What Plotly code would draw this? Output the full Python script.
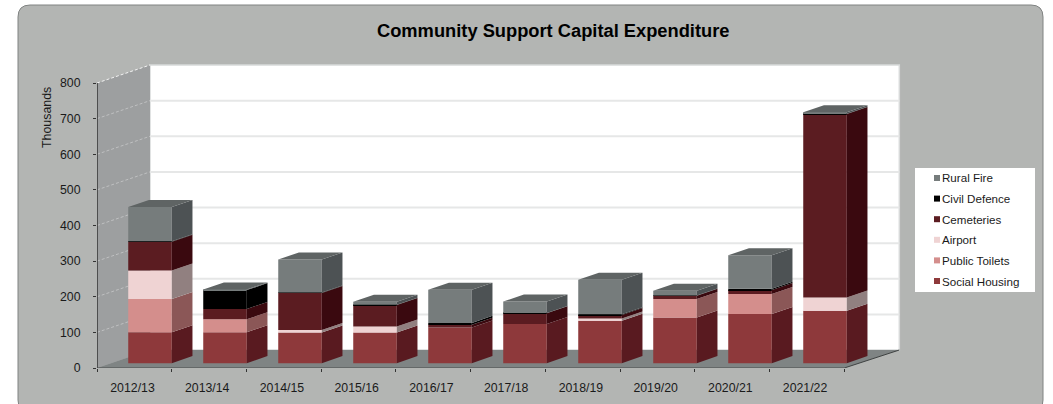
import plotly.graph_objects as go

WIDTH, HEIGHT = 1053, 404

categories = ["2012/13", "2013/14", "2014/15", "2015/16", "2016/17",
              "2017/18", "2018/19", "2019/20", "2020/21", "2021/22"]
social_housing = [87, 87, 86, 86, 100, 110, 119, 128, 138, 147]
public_toilets = [93, 36, 0, 0, 0, 0, 0, 52, 56, 0]
airport = [80, 0, 7, 17, 0, 0, 6, 0, 0, 37]
cemeteries = [81, 29, 104, 60, 8, 30, 10, 9, 11, 515]
civil_defence = [1, 53, 1, 1, 5, 1, 2, 1, 4, 1]
rural_fire = [96, 2, 93, 8, 93, 32, 97, 13, 94, 4]
y_ticks = [0, 100, 200, 300, 400, 500, 600, 700, 800]

# name, front colour, side colour (stacking order, bottom to top)
series = [
    ("Social Housing", social_housing, "#8E393B", "#591A20"),
    ("Public Toilets", public_toilets, "#D48E8C", "#8B5757"),
    ("Airport", airport, "#EFD3D3", "#918080"),
    ("Cemeteries", cemeteries, "#5B1C21", "#3A090F"),
    ("Civil Defence", civil_defence, "#000000", "#000000"),
    ("Rural Fire", rural_fire, "#767C7C", "#4D5254"),
]

# Pixel frame of the front plane of the 3D box
AXIS_LEFT, AXIS_BOTTOM = 97, 368
PX_PER_CAT = 74.73
PX_PER_UNIT = 0.35625
RIGHT_PX, TOP_PX = 905, 60

# Oblique projection: full depth moves a point right and up, in axis units
DEPTH_X = 53 / PX_PER_CAT
DEPTH_Y = 18 / PX_PER_UNIT
BAR_Z0, BAR_Z1 = 0.27, 0.66
BAR_CENTRE, BAR_WIDTH = 0.518, 0.583
BAR_PITCH = 75 / PX_PER_CAT


def project(x, y, z):
    return x + z * DEPTH_X, y + z * DEPTH_Y


def quad_path(corners):
    pts = [project(*c) for c in corners]
    return "M" + " L".join(f"{a:.4f},{b:.4f}" for a, b in pts) + " Z"


def px(x):
    return x / WIDTH


def py(y):
    return 1 - y / HEIGHT


fig = go.Figure()
shapes = []

# Rounded grey chart panel, running off the bottom of the page
L, T, R, B, C = 18, 5, 1043, 412, 12
panel = (f"M{px(L + C)},{py(T)} L{px(R - C)},{py(T)} "
         f"Q{px(R)},{py(T)} {px(R)},{py(T + C)} L{px(R)},{py(B - C)} "
         f"Q{px(R)},{py(B)} {px(R - C)},{py(B)} L{px(L + C)},{py(B)} "
         f"Q{px(L)},{py(B)} {px(L)},{py(B - C)} L{px(L)},{py(T + C)} "
         f"Q{px(L)},{py(T)} {px(L + C)},{py(T)} Z")
shapes.append(dict(type="path", xref="paper", yref="paper", path=panel, layer="below",
                   fillcolor="#B3B5B3", line=dict(color="#808382", width=1)))

N = len(categories)
N_BACK = N + 0.027
TOP = y_ticks[-1]


def box_shape(corners, fill, line=None):
    return dict(type="path", xref="x", yref="y", layer="below", path=quad_path(corners),
                fillcolor=fill, line=line or dict(width=0))


# Back wall, left wall and floor of the box
shapes.append(box_shape([(0, 0, 1), (N_BACK, 0, 1), (N_BACK, TOP, 1), (0, TOP, 1)], "#FFFFFF",
                        dict(color="#D8DADA", width=1.5)))
shapes.append(box_shape([(0, 0, 0), (0, TOP, 0), (0, TOP, 1), (0, 0, 1)], "#9D9FA0"))
shapes.append(box_shape([(0, 0, 0), (N, 0, 0), (N_BACK, 0, 1), (0, 0, 1)], "#7F8484"))


def segment(a, b, color, width, dash="solid"):
    (x0, y0), (x1, y1) = project(*a), project(*b)
    return dict(type="line", xref="x", yref="y", layer="below", x0=x0, y0=y0, x1=x1, y1=y1,
                line=dict(color=color, width=width, dash=dash))


# Gridlines across the back wall and dashed along the side wall
for v in y_ticks[1:]:
    if v < TOP:
        shapes.append(segment((0, v, 1), (N_BACK, v, 1), "#E6E7E7", 2))
    shapes.append(segment((0, v, 0), (0, v, 1), "#F2F2F2" if v == TOP else "#BFC0C1", 1,
                          "3px,2px"))

# Axis lines of the front plane and the floor's right edge
shapes.append(segment((0, 0, 0), (0, TOP, 0), "#333333", 1.5))
shapes.append(segment((0, 0, 0), (N, 0, 0), "#4A4C4C", 1.2))
shapes.append(segment((N, 0, 0), (N_BACK, 0, 1), "#3F4242", 1))

# Front faces come from stacked bars placed on the projected depth
base = [0] * N
x_front = [i * BAR_PITCH + BAR_CENTRE + BAR_Z0 * DEPTH_X for i in range(N)]
offset = BAR_Z0 * DEPTH_Y
for name, values, front, side in series:
    fig.add_trace(go.Bar(x=x_front, y=values, base=[b + offset for b in base], width=BAR_WIDTH,
                         name=name, marker=dict(color=front, line=dict(width=0)),
                         showlegend=False, hovertemplate=name + ": %{y}<extra></extra>"))
    # Right-hand side face of every segment in this series
    xs, ys = [], []
    for i, v in enumerate(values):
        if v <= 0:
            continue
        edge = i * BAR_PITCH + BAR_CENTRE + BAR_WIDTH / 2
        for c in [(edge, base[i], BAR_Z0), (edge, base[i] + v, BAR_Z0),
                  (edge, base[i] + v, BAR_Z1), (edge, base[i], BAR_Z1), (edge, base[i], BAR_Z0)]:
            a, b = project(*c)
            xs.append(a)
            ys.append(b)
        xs.append(None)
        ys.append(None)
    fig.add_trace(go.Scatter(x=xs, y=ys, mode="lines", fill="toself", fillcolor=side,
                             line=dict(width=0), hoverinfo="skip", showlegend=False))
    base = [b + v for b, v in zip(base, values)]

# Top face of each stack
xs, ys = [], []
for i, total in enumerate(base):
    left = i * BAR_PITCH + BAR_CENTRE - BAR_WIDTH / 2
    right = left + BAR_WIDTH
    for c in [(left, total, BAR_Z0), (right, total, BAR_Z0), (right, total, BAR_Z1),
              (left, total, BAR_Z1), (left, total, BAR_Z0)]:
        a, b = project(*c)
        xs.append(a)
        ys.append(b)
    xs.append(None)
    ys.append(None)
fig.add_trace(go.Scatter(x=xs, y=ys, mode="lines", fill="toself", fillcolor="#5F6464",
                         line=dict(width=0), hoverinfo="skip", showlegend=False))

annotations = [
    dict(text="<b>Community Support Capital Expenditure</b>", xref="paper", yref="paper",
         x=px(553), y=py(31), showarrow=False, xanchor="center", yanchor="middle",
         font=dict(size=18.3, color="#000000")),
    dict(text="Thousands", xref="paper", yref="paper", x=px(47), y=py(118), textangle=-90,
         showarrow=False, xanchor="center", yanchor="middle",
         font=dict(size=12.4, color="#1A1A1A")),
]

# Key on a white card, top entry last in the stack
shapes.append(dict(type="rect", xref="paper", yref="paper", layer="below",
                   x0=px(915), x1=px(1035), y0=py(168), y1=py(292),
                   fillcolor="#FFFFFF", line=dict(width=0)))
for row, (name, _, front, _) in enumerate(reversed(series)):
    cy = 178 + row * 20.6
    shapes.append(dict(type="rect", xref="paper", yref="paper", layer="below",
                       x0=px(934), x1=px(940), y0=py(cy + 3), y1=py(cy - 3),
                       fillcolor=front, line=dict(width=0)))
    annotations.append(dict(text=name, xref="paper", yref="paper", x=px(940), y=py(cy),
                            showarrow=False, xanchor="left", yanchor="middle",
                            font=dict(size=11.6, color="#1A1A1A")))

fig.update_layout(
    width=WIDTH, height=HEIGHT, margin=dict(l=0, r=0, t=0, b=0, autoexpand=False),
    paper_bgcolor="#FFFFFF", plot_bgcolor="rgba(0,0,0,0)",
    font=dict(family="Liberation Sans, Arial, sans-serif", color="#1A1A1A", size=12.3),
    barmode="overlay", showlegend=False, shapes=shapes, annotations=annotations,
    xaxis=dict(domain=[px(AXIS_LEFT), px(RIGHT_PX)],
               range=[0, (RIGHT_PX - AXIS_LEFT) / PX_PER_CAT],
               tickmode="array", tickvals=[i + 0.475 for i in range(N)], ticktext=categories,
               ticks="outside", ticklen=8, tickcolor="rgba(0,0,0,0)", showgrid=False,
               showline=False, zeroline=False, tickfont=dict(size=12.3),
               minor=dict(tickmode="array", tickvals=list(range(N + 1)), ticks="outside",
                          ticklen=3, tickcolor="#333333", tickwidth=1, showgrid=False)),
    yaxis=dict(domain=[py(AXIS_BOTTOM), py(TOP_PX)],
               range=[0, (AXIS_BOTTOM - TOP_PX) / PX_PER_UNIT],
               tickmode="array", tickvals=y_ticks, ticks="outside", ticklen=3,
               tickcolor="#333333", showgrid=False, showline=False, zeroline=False,
               ticklabelstandoff=10, tickfont=dict(size=12.3)),
)

fig.write_html("out.html", config=dict(displayModeBar=False))
